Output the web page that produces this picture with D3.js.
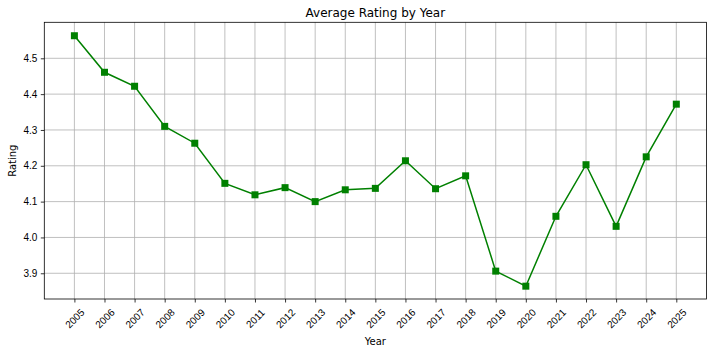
<!DOCTYPE html>
<html><head><meta charset="utf-8">
<script src="https://cdn.jsdelivr.net/npm/d3@7"></script>
<style>
body{margin:0;background:#fff;}
svg{display:block;font-family:"DejaVu Sans",sans-serif;}
</style></head>
<body><svg id="c" width="712" height="352"></svg>
<script>
const years = [2005,2006,2007,2008,2009,2010,2011,2012,2013,2014,2015,2016,2017,2018,2019,2020,2021,2022,2023,2024,2025];
const ratings = [4.563,4.461,4.422,4.310,4.263,4.151,4.119,4.139,4.100,4.133,4.137,4.214,4.136,4.172,3.906,3.864,4.059,4.203,4.031,4.225,4.372];
const yTicks = [3.9,4.0,4.1,4.2,4.3,4.4,4.5];
const title = "Average Rating by Year";
const xLabel = "Year";
const yLabel = "Rating";

const svg = d3.select("#c");
const L = 44.3, R = 706.4, T = 22.3, B = 299;
const x = d3.scaleLinear().domain([2004, 2026]).range([L, R]);
const y = d3.scaleLinear().domain([3.8282, 4.6005]).range([B, T]);

// grid
const g = svg.append("g");
g.selectAll(".vg").data(years).enter().append("line")
  .attr("x1", d => x(d)).attr("x2", d => x(d)).attr("y1", T).attr("y2", B)
  .attr("stroke", "#b0b0b0").attr("stroke-width", 0.8);
g.selectAll(".hg").data(yTicks).enter().append("line")
  .attr("x1", L).attr("x2", R).attr("y1", d => y(d)).attr("y2", d => y(d))
  .attr("stroke", "#b0b0b0").attr("stroke-width", 0.8);

// axes
const xAxis = svg.append("g").attr("transform", `translate(0,${B})`)
  .call(d3.axisBottom(x).tickValues(years).tickSize(3.5).tickPadding(3.5).tickFormat(d3.format("d")));
xAxis.select(".domain").remove();
xAxis.selectAll(".tick line").attr("stroke", "#000").attr("stroke-width", 0.8);
xAxis.selectAll(".tick text")
  .attr("font-size", 10).attr("fill", "#000")
  .attr("text-anchor", "middle").attr("dy", null).attr("y", null)
  .attr("dominant-baseline", "central")
  .attr("transform", "translate(0,19.5) rotate(-45)");

const yAxis = svg.append("g").attr("transform", `translate(${L},0)`)
  .call(d3.axisLeft(y).tickValues(yTicks).tickSize(3.5).tickPadding(3.5).tickFormat(d3.format(".1f")));
yAxis.select(".domain").remove();
yAxis.selectAll(".tick line").attr("stroke", "#000").attr("stroke-width", 0.8);
yAxis.selectAll(".tick text").attr("font-size", 10).attr("fill", "#000");

// spines
svg.append("rect").attr("x", L).attr("y", T).attr("width", R - L).attr("height", B - T)
  .attr("fill", "none").attr("stroke", "#000").attr("stroke-width", 0.8);

// line
const data = years.map((yr, i) => ({yr, v: ratings[i]}));
svg.append("path").datum(data)
  .attr("d", d3.line().x(d => x(d.yr)).y(d => y(d.v)))
  .attr("fill", "none").attr("stroke", "#008000").attr("stroke-width", 1.5);
svg.selectAll(".m").data(data).enter().append("rect")
  .attr("x", d => x(d.yr) - 3.5).attr("y", d => y(d.v) - 3.5)
  .attr("width", 7).attr("height", 7).attr("fill", "#008000");

// labels
svg.append("text").attr("x", (L + R) / 2).attr("y", 17).attr("text-anchor", "middle")
  .attr("font-size", 12).attr("fill", "#000").text(title);
svg.append("text").attr("x", (L + R) / 2).attr("y", 345).attr("text-anchor", "middle")
  .attr("font-size", 10).attr("fill", "#000").text(xLabel);
svg.append("text").attr("transform", `translate(16,${(T + B) / 2}) rotate(-90)`).attr("text-anchor", "middle")
  .attr("font-size", 10).attr("fill", "#000").text(yLabel);
</script></body></html>
